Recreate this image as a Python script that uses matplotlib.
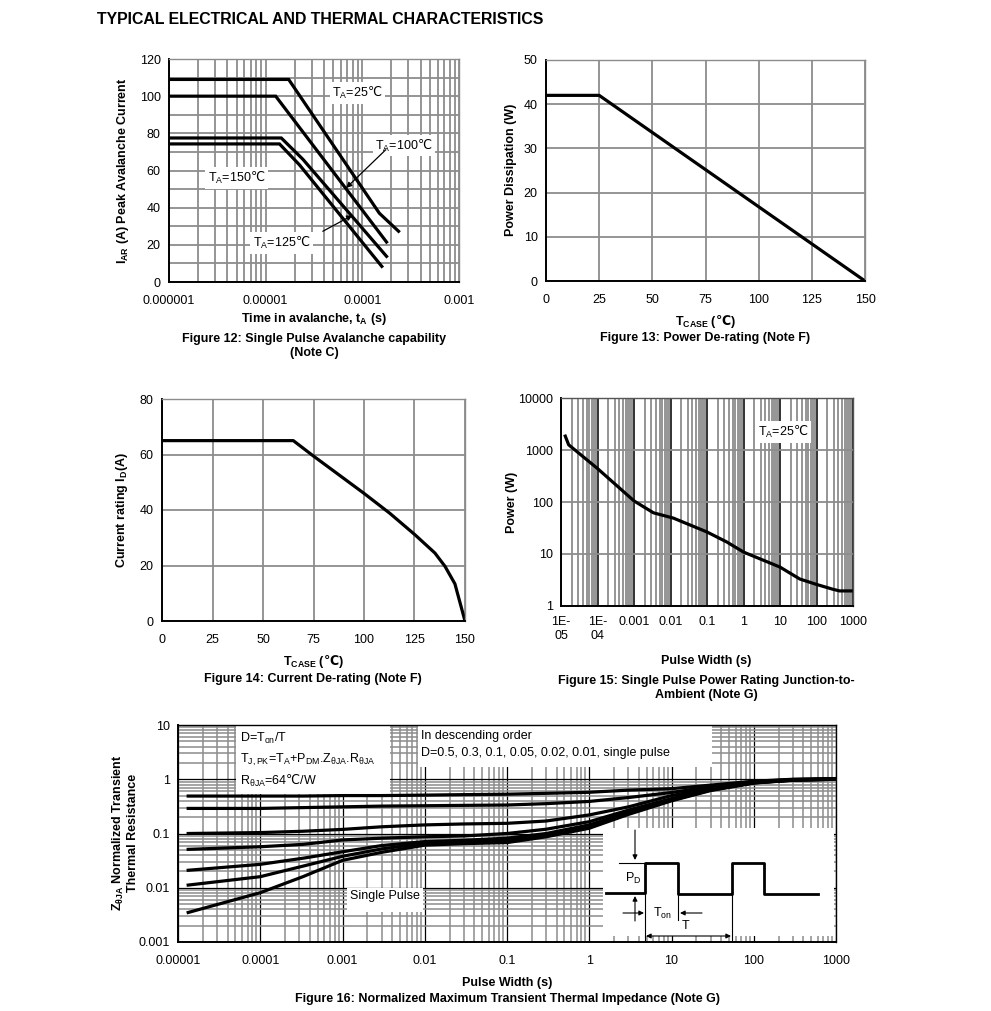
import matplotlib
matplotlib.use('Agg')
import matplotlib.pyplot as plt
import matplotlib.transforms as mtransforms
from matplotlib.patches import Rectangle
from matplotlib.ticker import FixedLocator, FixedFormatter, LogLocator, NullFormatter

plt.rcParams['font.family'] = ['Liberation Sans', 'DejaVu Sans']
plt.rcParams['mathtext.fontset'] = 'custom'
plt.rcParams['mathtext.rm'] = 'Liberation Sans'
plt.rcParams['mathtext.bf'] = 'Liberation Sans:bold'
plt.rcParams['mathtext.it'] = 'Liberation Sans:italic'
# the degree-Celsius sign comes from DejaVu (regular via \mathsf, bold via \mathcal)
plt.rcParams['mathtext.sf'] = 'DejaVu Sans'
plt.rcParams['mathtext.cal'] = 'DejaVu Sans:bold'
plt.rcParams['mathtext.fallback'] = 'stixsans'

DEG = '$\\mathsf{℃}$'
DEGB = '$\\mathcal{℃}$'

# ---- data ----
# Figure 12: avalanche current vs time in avalanche
t12_25 = [1e-6, 1.73e-5, 1.5e-4, 2.37e-4]
i12_25 = [109, 109, 37, 27.3]
t12_100 = [1e-6, 1.27e-5, 1.78e-4]
i12_100 = [100, 100, 21.5]
t12_125 = [1e-6, 1.45e-5, 2.43e-5, 1.78e-4]
i12_125 = [77.5, 77.5, 66, 13.8]
t12_150 = [1e-6, 1.39e-5, 2.24e-5, 1.59e-4]
i12_150 = [74.3, 74.3, 63, 8.4]
x12_ticks = [1e-6, 1e-5, 1e-4, 1e-3]
x12_labels = ['0.000001', '0.00001', '0.0001', '0.001']

# Figure 13: power de-rating
t13 = [0, 25, 150]
p13 = [42, 42, 0]

# Figure 14: current de-rating
t14 = [0, 65, 74.5, 100, 112.8, 125.2, 135.1, 140.1, 145, 150]
i14 = [65, 65, 59.7, 46, 38.8, 31.1, 24.5, 19.7, 13.4, 0]

# Figure 15: single pulse power rating
x15 = [1.31e-5, 1.62e-5, 1e-4, 1e-3, 3.4e-3, 1.2e-2, 0.1, 0.35, 1, 10, 35, 100, 280, 430, 1000]
p15 = [1850, 1260, 440, 105, 62, 49, 26.5, 17, 10.9, 5.6, 3.3, 2.6, 2.1, 1.95, 1.95]
x15_ticks = [1e-5, 1e-4, 1e-3, 1e-2, 1e-1, 1, 10, 100, 1000]
x15_labels = ['1E-\n05', '1E-\n04', '0.001', '0.01', '0.1', '1', '10', '100', '1000']
y15_ticks = [1, 10, 100, 1000, 10000]
y15_labels = ['1', '10', '100', '1000', '10000']

# Figure 16: normalized transient thermal impedance
x16 = [1.33e-5, 1e-4, 3.3e-4, 1e-3, 3e-3, 1e-2, 3e-2, 1e-1, 3e-1, 1, 3, 10, 30, 100, 300, 1000]
z16_d50 = [0.49, 0.49, 0.49, 0.50, 0.50, 0.51, 0.52, 0.53, 0.55, 0.575, 0.63, 0.67, 0.78, 0.92, 1.0, 1.03]
z16_d30 = [0.29, 0.29, 0.30, 0.31, 0.32, 0.325, 0.33, 0.335, 0.355, 0.39, 0.46, 0.57, 0.73, 0.90, 0.99, 1.02]
z16_d10 = [0.10, 0.104, 0.11, 0.119, 0.133, 0.144, 0.15, 0.154, 0.17, 0.22, 0.31, 0.50, 0.69, 0.88, 0.98, 1.01]
z16_d05 = [0.051, 0.057, 0.063, 0.076, 0.082, 0.087, 0.09, 0.10, 0.12, 0.165, 0.27, 0.44, 0.66, 0.87, 0.97, 1.01]
z16_d02 = [0.021, 0.027, 0.035, 0.046, 0.060, 0.071, 0.075, 0.082, 0.10, 0.144, 0.245, 0.42, 0.64, 0.86, 0.97, 1.0]
z16_d01 = [0.0112, 0.016, 0.025, 0.038, 0.052, 0.066, 0.07, 0.074, 0.093, 0.133, 0.235, 0.41, 0.63, 0.86, 0.96, 1.0]
z16_single = [0.0035, 0.0081, 0.016, 0.032, 0.045, 0.061, 0.065, 0.068, 0.087, 0.125, 0.225, 0.40, 0.62, 0.85, 0.96, 1.0]
x16_ticks = [1e-5, 1e-4, 1e-3, 1e-2, 1e-1, 1, 10, 100, 1000]
x16_labels = ['0.00001', '0.0001', '0.001', '0.01', '0.1', '1', '10', '100', '1000']
y16_ticks = [0.001, 0.01, 0.1, 1, 10]
y16_labels = ['0.001', '0.01', '0.1', '1', '10']

# pulse sketch inside figure 16 (pixel coordinates of the page)
wave_x = [606, 645, 645, 678, 678, 732, 732, 764, 764, 818]
wave_y = [893, 893, 863, 863, 894, 894, 863, 863, 894, 894]

W, H = 991, 1011
GRID = '#8c8c8c'
fig = plt.figure(figsize=(W / 100, H / 100), dpi=100)
px = mtransforms.Affine2D().scale(1 / W, -1 / H).translate(0, 1) + fig.transFigure


def box(l, t, r, b):
    return [l / W, 1 - b / H, (r - l) / W, (b - t) / H]


def ftext(x, y, s, **kw):
    kw.setdefault('ha', 'center')
    kw.setdefault('va', 'center')
    kw.setdefault('fontsize', 9)
    fig.text(x / W, 1 - y / H, s, **kw)


def frame(ax, edge=GRID):
    for s in ['left', 'bottom']:
        ax.spines[s].set_color('black')
        ax.spines[s].set_linewidth(1.4)
    for s in ['top', 'right']:
        ax.spines[s].set_color(edge)
        ax.spines[s].set_linewidth(1.0)
    ax.tick_params(which='both', length=0, labelsize=9, pad=6)
    ax.tick_params(axis='x', which='both', pad=9.5)
    ax.set_axisbelow(True)


ftext(97, 20, 'TYPICAL ELECTRICAL AND THERMAL CHARACTERISTICS', ha='left',
      fontsize=11.4, fontweight='bold')

# ---- Figure 12 ----
ax12 = fig.add_axes(box(169, 59, 459, 282))
ax12.set_xscale('log')
ax12.set_xlim(1e-6, 1e-3)
ax12.set_ylim(0, 120)
ax12.set_yticks(range(0, 121, 20))
ax12.set_yticks(range(10, 120, 20), minor=True)
ax12.xaxis.set_major_locator(FixedLocator(x12_ticks))
ax12.xaxis.set_major_formatter(FixedFormatter(x12_labels))
ax12.xaxis.set_minor_locator(LogLocator(subs=range(2, 10), numticks=20))
ax12.xaxis.set_minor_formatter(NullFormatter())
ax12.grid(True, which='both', color=GRID, lw=1.3)
frame(ax12)
for t, i in [(t12_25, i12_25), (t12_100, i12_100), (t12_125, i12_125), (t12_150, i12_150)]:
    ax12.plot(t, i, color='black', lw=2.3, solid_joinstyle='miter')
lab = dict(ha='center', va='center', fontsize=9, bbox=dict(fc='white', ec='none', pad=2))
ax12.text(8.9e-5, 101.7, 'T$_{\\mathrm{A}}$=25' + DEG, **lab)
ax12.text(2.7e-4, 73.4, 'T$_{\\mathrm{A}}$=100' + DEG, **lab)
ax12.text(5.0e-6, 56, 'T$_{\\mathrm{A}}$=150' + DEG, **lab)
ax12.text(1.45e-5, 21, 'T$_{\\mathrm{A}}$=125' + DEG, **lab)
arr = dict(arrowstyle='-|>', color='black', lw=0.9, mutation_scale=8, shrinkA=0, shrinkB=0)
ax12.annotate('', xy=(6.8e-5, 50.6), xytext=(1.75e-4, 71.2), arrowprops=arr)
ax12.annotate('', xy=(7.9e-5, 35.9), xytext=(3.9e-5, 27.3), arrowprops=arr)
ftext(123, 171, 'I$_{\\mathbf{AR}}$ (A) Peak Avalanche Current', rotation=90, fontweight='bold')
ftext(314, 319, 'Time in avalanche, t$_{\\mathbf{A}}$ (s)', fontweight='bold')
ftext(314, 346, 'Figure 12: Single Pulse Avalanche capability\n(Note C)', fontweight='bold')

# ---- Figure 13 ----
ax13 = fig.add_axes(box(546, 60, 865, 281))
ax13.plot(t13, p13, color='black', lw=2.3)
ax13.set_xlim(0, 150)
ax13.set_ylim(0, 50)
ax13.set_xticks(range(0, 151, 25))
ax13.set_yticks(range(0, 51, 10))
ax13.grid(True, color=GRID, lw=1.3)
frame(ax13)
ftext(511, 170, 'Power Dissipation (W)', rotation=90, fontweight='bold')
ftext(705, 321, 'T$_{\\mathbf{CASE}}$ (' + DEGB + ')', fontweight='bold')
ftext(705, 338, 'Figure 13: Power De-rating (Note F)', fontweight='bold')

# ---- Figure 14 ----
ax14 = fig.add_axes(box(162, 399, 465, 621))
ax14.plot(t14, i14, color='black', lw=2.3)
ax14.set_xlim(0, 150)
ax14.set_ylim(0, 80)
ax14.set_xticks(range(0, 151, 25))
ax14.set_yticks(range(0, 81, 20))
ax14.grid(True, color=GRID, lw=1.3)
frame(ax14)
ftext(122, 510, 'Current rating I$_{\\mathbf{D}}$(A)', rotation=90, fontweight='bold')
ftext(313, 661, 'T$_{\\mathbf{CASE}}$ (' + DEGB + ')', fontweight='bold')
ftext(313, 679, 'Figure 14: Current De-rating (Note F)', fontweight='bold')

# ---- Figure 15 ----
ax15 = fig.add_axes(box(561, 398, 853, 606))
ax15.set_xscale('log')
ax15.set_yscale('log')
ax15.set_xlim(1e-5, 1000)
ax15.set_ylim(1, 10000)
ax15.xaxis.set_major_locator(FixedLocator(x15_ticks))
ax15.xaxis.set_major_formatter(FixedFormatter(x15_labels))
ax15.xaxis.set_minor_locator(LogLocator(subs=range(2, 10), numticks=30))
ax15.xaxis.set_minor_formatter(NullFormatter())
ax15.yaxis.set_major_locator(FixedLocator(y15_ticks))
ax15.yaxis.set_major_formatter(FixedFormatter(y15_labels))
ax15.yaxis.set_minor_locator(FixedLocator([]))
ax15.grid(True, axis='x', which='minor', color=GRID, lw=1.3)
ax15.grid(True, axis='x', which='major', color='#222222', lw=1.3)
ax15.grid(True, axis='y', which='major', color=GRID, lw=1.3)
frame(ax15, edge='#555555')
ax15.tick_params(axis='x', pad=7.5)
ax15.plot(x15, p15, color='black', lw=2.3)
ax15.text(12.3, 2230, 'T$_{\\mathrm{A}}$=25' + DEG, **lab)
ftext(512, 502, 'Power (W)', rotation=90, fontweight='bold')
ftext(706, 661, 'Pulse Width (s)', fontweight='bold')
ftext(706, 688, 'Figure 15: Single Pulse Power Rating Junction-to-\nAmbient (Note G)',
      fontweight='bold')

# ---- Figure 16 ----
ax16 = fig.add_axes(box(178, 725, 836, 942))
ax16.set_xscale('log')
ax16.set_yscale('log')
ax16.set_xlim(1e-5, 1000)
ax16.set_ylim(1e-3, 10)
ax16.xaxis.set_major_locator(FixedLocator(x16_ticks))
ax16.xaxis.set_major_formatter(FixedFormatter(x16_labels))
ax16.xaxis.set_minor_locator(LogLocator(subs=range(2, 10), numticks=30))
ax16.xaxis.set_minor_formatter(NullFormatter())
ax16.yaxis.set_major_locator(FixedLocator(y16_ticks))
ax16.yaxis.set_major_formatter(FixedFormatter(y16_labels))
ax16.yaxis.set_minor_locator(LogLocator(subs=range(2, 10), numticks=30))
ax16.yaxis.set_minor_formatter(NullFormatter())
ax16.grid(True, which='minor', color=GRID, lw=1.1)
ax16.grid(True, which='major', color='black', lw=0.9)
frame(ax16, edge='black')
for lbl in ax16.get_xticklabels():
    lbl.set_family(['Liberation Sans Narrow', 'Liberation Sans'])
for z in [z16_d50, z16_d30, z16_d10, z16_d05, z16_d02, z16_d01, z16_single]:
    ax16.plot(x16, z, color='black', lw=2.3)

# white panels hiding the grid behind the notes
for (l, t, r, b) in [(236, 725, 390, 794), (418, 725, 712, 767), (347, 888, 423, 912),
                     (603, 828, 834, 936)]:
    ax16.add_patch(Rectangle((l, t), r - l, b - t, transform=px, fc='white', ec='none', zorder=1.5))
note = dict(transform=px, ha='left', va='center', fontsize=9, zorder=4)
ax16.text(240, 738, 'D=T$_{\\mathrm{on}}$/T', **note)
ax16.text(240, 760, 'T$_{\\mathrm{J,PK}}$=T$_{\\mathrm{A}}$+P$_{\\mathrm{DM}}$.Z$_{\\mathrm{θJA}}$.R$_{\\mathrm{θJA}}$', **note)
ax16.text(240, 781, 'R$_{\\mathrm{θJA}}$=64' + DEG + '/W', **note)
ax16.text(421, 736, 'In descending order', **note)
ax16.text(421, 753, 'D=0.5, 0.3, 0.1, 0.05, 0.02, 0.01, single pulse', **note)
ax16.text(385, 896, 'Single Pulse', transform=px, ha='center', va='center', fontsize=9, zorder=4)

# pulse sketch
ax16.plot(wave_x, wave_y, color='black', lw=2, transform=px, zorder=4, clip_on=False)
thin = dict(color='black', lw=0.8, transform=px, zorder=4, clip_on=False)
ax16.plot([619, 645], [863, 863], **thin)
ax16.plot([645, 645], [893, 940], **thin)
ax16.plot([678, 678], [894, 920], **thin)
ax16.plot([732, 732], [894, 940], **thin)
arr16 = dict(arrowstyle='-|>', color='black', lw=0.8, mutation_scale=7, shrinkA=0, shrinkB=0)
for xy, xyt in [((635, 860), (635, 830)), ((635, 896), (635, 921)),
                ((644, 913), (623, 913)), ((680, 913), (702, 913))]:
    ax16.annotate('', xy=xy, xytext=xyt, xycoords=px, textcoords=px, arrowprops=arr16,
                  annotation_clip=False)
ax16.annotate('', xy=(731, 936), xytext=(646, 936), xycoords=px, textcoords=px,
              arrowprops=dict(arrowstyle='<|-|>', color='black', lw=0.8, mutation_scale=7,
                              shrinkA=0, shrinkB=0), annotation_clip=False)
ax16.text(633, 878, 'P$_{\\mathrm{D}}$', transform=px, ha='center', va='center', fontsize=9, zorder=4)
ax16.text(662, 913, 'T$_{\\mathrm{on}}$', transform=px, ha='center', va='center', fontsize=9, zorder=4)
ax16.text(686, 926, 'T', transform=px, ha='center', va='center', fontsize=9, zorder=4)

ftext(125, 833, 'Z$_{\\mathbf{θJA}}$ Normalized Transient\nThermal Resistance', rotation=90,
      fontweight='bold')
ftext(507, 983, 'Pulse Width (s)', fontweight='bold')
ftext(507, 999, 'Figure 16: Normalized Maximum Transient Thermal Impedance (Note G)',
      fontweight='bold')

fig.savefig('out.png', dpi=100)
